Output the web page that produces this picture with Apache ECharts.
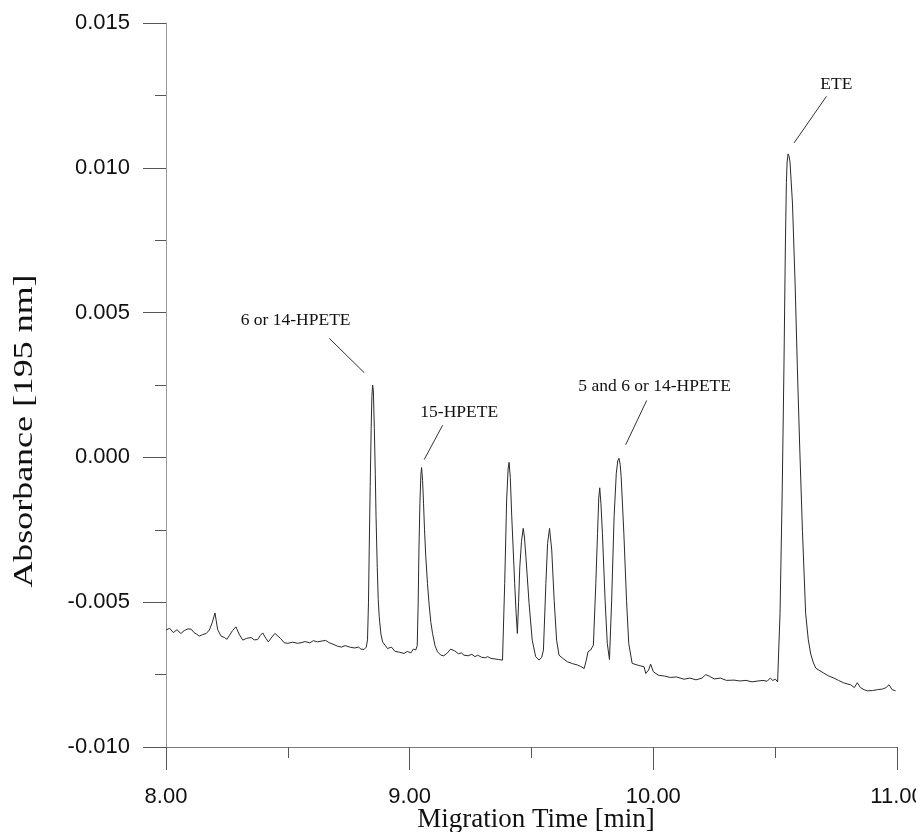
<!DOCTYPE html>
<html>
<head>
<meta charset="utf-8">
<script src="https://cdn.jsdelivr.net/npm/echarts/dist/echarts.min.js"></script>
<style>
  html, body { margin: 0; padding: 0; background: #ffffff; }
  #chart { width: 916px; height: 832px; }
</style>
</head>
<body>
<div id="chart"></div>
<script>
// ---- Data: [migration time (min), absorbance (AU at 195 nm)] ----
const baselineStart = [
  [8.000,-0.00596],[8.015,-0.00590],[8.030,-0.00605],[8.045,-0.00595],[8.061,-0.00608],
  [8.075,-0.00598],[8.090,-0.00592],[8.103,-0.00593],[8.115,-0.00605],[8.125,-0.00610],
  [8.137,-0.00617],[8.150,-0.00612],[8.165,-0.00608],[8.178,-0.00596],[8.190,-0.00570],
  [8.201,-0.00537],[8.212,-0.00595],[8.226,-0.00617],[8.240,-0.00622],[8.250,-0.00628],
  [8.260,-0.00615],[8.273,-0.00598],[8.287,-0.00585],[8.300,-0.00610],[8.315,-0.00631],
  [8.330,-0.00625],[8.349,-0.00622],[8.362,-0.00630],[8.376,-0.00629],[8.387,-0.00615],
  [8.397,-0.00606],[8.410,-0.00625],[8.420,-0.00637],[8.435,-0.00620],[8.447,-0.00608],
  [8.455,-0.00603],[8.470,-0.00625],[8.485,-0.00640],[8.500,-0.00642],[8.520,-0.00638],
  [8.540,-0.00642],[8.554,-0.00640],[8.570,-0.00636],[8.590,-0.00640],[8.605,-0.00633],
  [8.622,-0.00637],[8.640,-0.00634],[8.655,-0.00632],[8.670,-0.00640],[8.685,-0.00645],
  [8.704,-0.00652],[8.720,-0.00655],[8.735,-0.00650],[8.758,-0.00656],[8.775,-0.00658],
  [8.790,-0.00655],[8.800,-0.00662],[8.813,-0.00663],[8.822,-0.00655]
];
const peak6or14Hpete = [
  [8.827,-0.00630],[8.831,-0.00500],[8.834,-0.00320],[8.838,-0.00100],[8.842,0.00100],
  [8.845,0.00210],[8.848,0.00250],[8.851,0.00230],[8.855,0.00100],[8.859,-0.00060],
  [8.862,-0.00205],[8.867,-0.00380],[8.871,-0.00490],[8.875,-0.00550],[8.882,-0.00610],
  [8.889,-0.00637],[8.895,-0.00640]
];
const baselineA = [
  [8.909,-0.00660],[8.925,-0.00655],[8.940,-0.00670],[8.955,-0.00672],[8.977,-0.00677],
  [8.990,-0.00670],[9.005,-0.00675],[9.015,-0.00662],[9.025,-0.00665]
];
const peak15Hpete = [
  [9.031,-0.00650],[9.035,-0.00500],[9.038,-0.00320],[9.042,-0.00160],[9.046,-0.00060],
  [9.049,-0.00035],[9.053,-0.00080],[9.057,-0.00160],[9.061,-0.00250],[9.066,-0.00340],
  [9.073,-0.00435],[9.080,-0.00510],[9.087,-0.00570],[9.094,-0.00608],[9.104,-0.00650],
  [9.114,-0.00671]
];
const baselineB = [
  [9.128,-0.00683],[9.140,-0.00685],[9.155,-0.00675],[9.168,-0.00662],[9.176,-0.00658],
  [9.185,-0.00668],[9.200,-0.00678],[9.212,-0.00675],[9.223,-0.00683],[9.240,-0.00685],
  [9.255,-0.00680],[9.268,-0.00688],[9.279,-0.00683],[9.295,-0.00690],[9.310,-0.00692],
  [9.320,-0.00688],[9.333,-0.00694],[9.350,-0.00696],[9.365,-0.00698],[9.381,-0.00700]
];
const peakCluster = [
  [9.390,-0.00435],[9.398,-0.00147],[9.404,-0.00040],[9.408,-0.00017],[9.413,-0.00070],
  [9.419,-0.00205],[9.431,-0.00435],[9.437,-0.00540],[9.442,-0.00608],[9.447,-0.00500],
  [9.452,-0.00378],[9.459,-0.00290],[9.466,-0.00245],[9.471,-0.00275],[9.477,-0.00343],
  [9.490,-0.00504],[9.503,-0.00631],[9.517,-0.00688],[9.531,-0.00700],[9.542,-0.00690],
  [9.549,-0.00665],[9.559,-0.00435],[9.566,-0.00297],[9.574,-0.00245],[9.583,-0.00320],
  [9.593,-0.00493],[9.603,-0.00631],[9.613,-0.00683]
];
const baselineC = [
  [9.630,-0.00695],[9.648,-0.00706],[9.668,-0.00712],[9.689,-0.00717],[9.702,-0.00722],
  [9.716,-0.00729],[9.725,-0.00700],[9.732,-0.00671],[9.743,-0.00665],[9.754,-0.00648]
];
const peakPair = [
  [9.764,-0.00435],[9.771,-0.00262],[9.776,-0.00140],[9.780,-0.00105],[9.785,-0.00160],
  [9.791,-0.00262],[9.802,-0.00493],[9.811,-0.00642],[9.820,-0.00698],[9.829,-0.00493],
  [9.839,-0.00205],[9.848,-0.00055],[9.854,-0.00012],[9.859,-0.00003],[9.864,-0.00025],
  [9.868,-0.00067],[9.879,-0.00262],[9.890,-0.00493],[9.899,-0.00642],[9.913,-0.00711],
  [9.934,-0.00717]
];
const baselineD = [
  [9.962,-0.00723],[9.969,-0.00746],[9.980,-0.00735],[9.989,-0.00714],[10.000,-0.00740],
  [10.020,-0.00752],[10.045,-0.00755],[10.070,-0.00760],[10.095,-0.00758],[10.126,-0.00766],
  [10.150,-0.00762],[10.175,-0.00768],[10.200,-0.00762],[10.215,-0.00750],[10.229,-0.00755],
  [10.250,-0.00765],[10.275,-0.00762],[10.300,-0.00770],[10.331,-0.00769],[10.355,-0.00772],
  [10.380,-0.00770],[10.405,-0.00775],[10.430,-0.00772],[10.450,-0.00770],[10.467,-0.00773],
  [10.480,-0.00762],[10.490,-0.00770],[10.501,-0.00766],[10.510,-0.00775],[10.516,-0.00778]
];
const peakEte = [
  [10.520,-0.00538],[10.529,-0.00113],[10.536,0.00312],[10.542,0.00737],[10.546,0.00949],
  [10.549,0.01020],[10.553,0.01048],[10.557,0.01040],[10.561,0.01020],[10.571,0.00878],
  [10.582,0.00595],[10.591,0.00312],[10.601,0.00029],[10.612,-0.00255],[10.625,-0.00538],
  [10.636,-0.00630],[10.646,-0.00679],[10.657,-0.00710],[10.667,-0.00728]
];
const baselineEnd = [
  [10.680,-0.00735],[10.700,-0.00745],[10.720,-0.00755],[10.741,-0.00762],[10.760,-0.00770],
  [10.780,-0.00778],[10.795,-0.00782],[10.810,-0.00785],[10.825,-0.00795],[10.837,-0.00778],
  [10.850,-0.00795],[10.865,-0.00802],[10.878,-0.00806],[10.900,-0.00805],[10.920,-0.00802],
  [10.940,-0.00800],[10.955,-0.00795],[10.967,-0.00785],[10.980,-0.00802],[10.994,-0.00806]
];

const xTickLabels = ['8.00', '9.00', '10.00', '11.00'];
const yTickLabels = ['-0.010', '-0.005', '0.000', '0.005', '0.010', '0.015'];

const peakNames = ['6 or 14-HPETE', '15-HPETE', '5 and 6 or 14-HPETE', 'ETE'];
const peakApexTime = [8.848, 9.049, 9.859, 10.553];
const peakApexValue = [0.00250, -0.00035, -0.00003, 0.01048];

const xTitle = 'Migration Time [min]';
const yTitle = 'Absorbance [195 nm]';

// ---- Build chart ----
const trace = [].concat(baselineStart, peak6or14Hpete, baselineA, peak15Hpete, baselineB,
  peakCluster, baselineC, peakPair, baselineD, peakEte, baselineEnd);

const xMin = parseFloat(xTickLabels[0]);
const xMax = parseFloat(xTickLabels[xTickLabels.length - 1]);
const xInterval = parseFloat(xTickLabels[1]) - xMin;
const yMin = parseFloat(yTickLabels[0]);
const yMax = parseFloat(yTickLabels[yTickLabels.length - 1]);
const yInterval = parseFloat(yTickLabels[1]) - yMin;

const chart = echarts.init(document.getElementById('chart'), null, { renderer: 'canvas' });

const axisColor = '#7a7a7a';
const tickColor = '#555555';

chart.setOption({
  animation: false,
  backgroundColor: '#ffffff',
  grid: { left: 166, right: 19, top: 23, bottom: 85, containLabel: false, outerBoundsMode: 'none' },
  xAxis: {
    type: 'value',
    min: xMin, max: xMax, interval: xInterval,
    axisLine: { onZero: false, lineStyle: { color: axisColor, width: 1 } },
    axisTick: { show: true, inside: false, length: 23, lineStyle: { color: tickColor, width: 1 } },
    minorTick: { show: true, splitNumber: 2, length: 11, lineStyle: { color: tickColor, width: 1 } },
    splitLine: { show: false },
    axisLabel: {
      margin: 39,
      color: '#111111',
      fontFamily: '"Liberation Sans", Arial, sans-serif',
      fontSize: 22,
      hideOverlap: false,
      formatter: function (v) { return xTickLabels[Math.round((v - xMin) / xInterval)]; }
    }
  },
  yAxis: {
    type: 'value',
    min: yMin, max: yMax, interval: yInterval,
    axisLine: { onZero: false, lineStyle: { color: '#9a9a9a', width: 1 } },
    axisTick: { show: true, inside: false, length: 23, lineStyle: { color: tickColor, width: 1 } },
    minorTick: { show: true, splitNumber: 2, length: 11, lineStyle: { color: tickColor, width: 1 } },
    splitLine: { show: false },
    axisLabel: {
      margin: 36,
      color: '#111111',
      fontFamily: '"Liberation Sans", Arial, sans-serif',
      fontSize: 22,
      formatter: function (v) { return yTickLabels[Math.round((v - yMin) / yInterval)]; }
    }
  },
  series: [{
    type: 'line',
    data: trace,
    showSymbol: false,
    symbol: 'none',
    smooth: false,
    lineStyle: { color: '#2a2a2a', width: 1 }
  }]
});

// ---- Titles and peak annotations ----
const annotationLayout = [
  { label: [-77, -65], line: [-43.4, -46.7, -8.4, -12.3] },
  { label: [37.6, -55.6], line: [21, -42.3, 2.6, -8] },
  { label: [35.7, -71.7], line: [27.7, -57.8, 6.7, -13.5] },
  { label: [48.2, -69], line: [38.4, -57.6, 6, -11] }
];

const graphics = [];
graphics.push({
  type: 'text',
  x: 536, y: 820,
  style: {
    text: xTitle, fill: '#111111',
    font: '27px "Liberation Serif", "Times New Roman", serif',
    textAlign: 'center', textVerticalAlign: 'middle'
  }
});
graphics.push({
  type: 'text',
  x: 25, y: 431,
  rotation: Math.PI / 2,
  scaleX: 1.33,
  style: {
    text: yTitle, fill: '#111111',
    font: '27px "Liberation Serif", "Times New Roman", serif',
    textAlign: 'center', textVerticalAlign: 'middle'
  }
});

peakNames.forEach(function (name, i) {
  const p = chart.convertToPixel({ gridIndex: 0 }, [peakApexTime[i], peakApexValue[i]]);
  const lay = annotationLayout[i];
  graphics.push({
    type: 'text',
    x: p[0] + lay.label[0], y: p[1] + lay.label[1],
    style: {
      text: name, fill: '#111111',
      font: '17.5px "Liberation Serif", "Times New Roman", serif',
      textAlign: 'center', textVerticalAlign: 'middle'
    }
  });
  graphics.push({
    type: 'line',
    shape: {
      x1: p[0] + lay.line[0], y1: p[1] + lay.line[1],
      x2: p[0] + lay.line[2], y2: p[1] + lay.line[3]
    },
    style: { stroke: '#333333', lineWidth: 1 }
  });
});

chart.setOption({ graphic: graphics });
</script>
</body>
</html>
